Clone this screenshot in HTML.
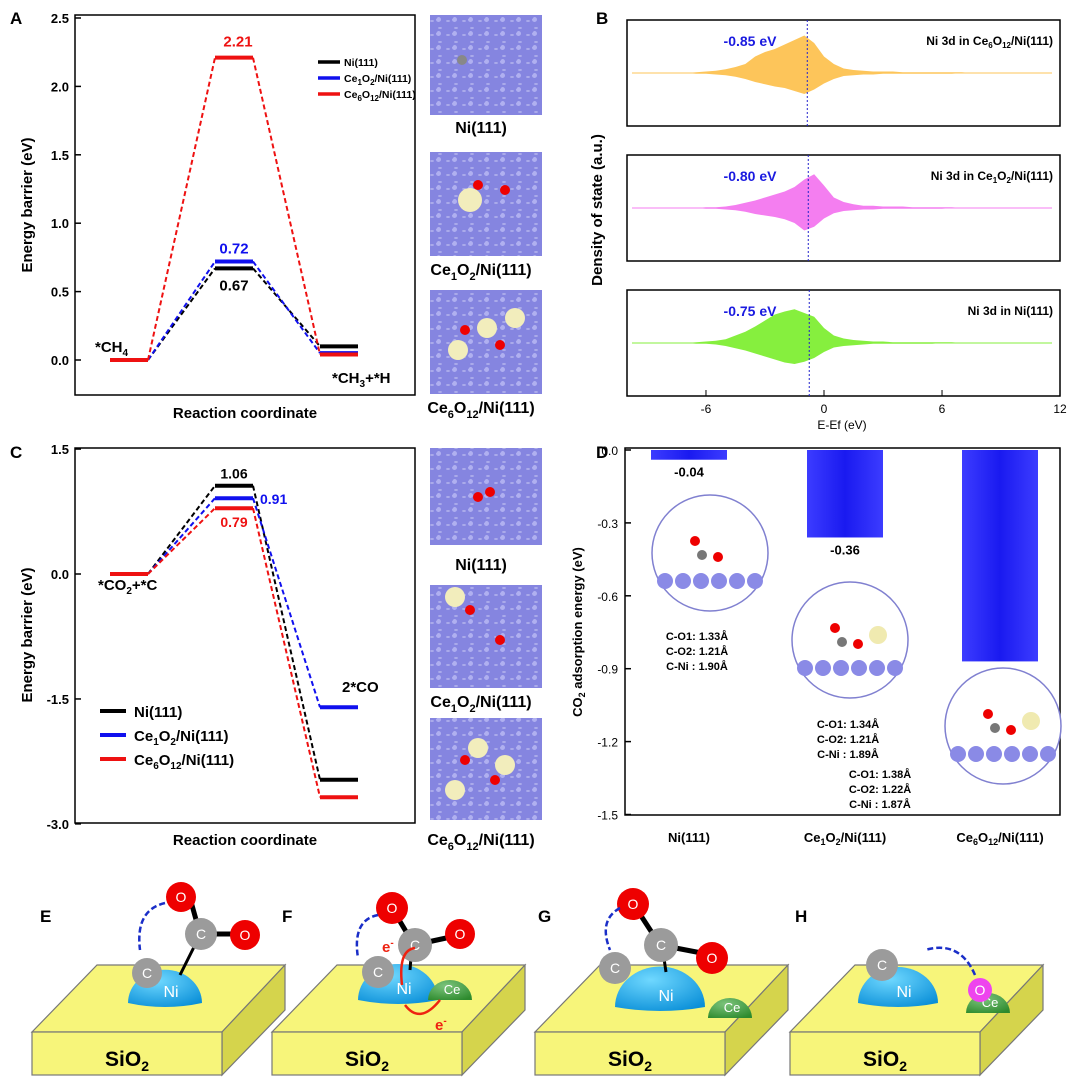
<!DOCTYPE html>
<html><head><meta charset="utf-8"><style>
body{margin:0;background:#fff}
svg{display:block;font-family:"Liberation Sans","Noto Sans CJK SC",sans-serif}
.b{font-weight:bold}
</style></head><body>
<svg id="s" width="1080" height="1090" viewBox="0 0 1080 1090" xmlns="http://www.w3.org/2000/svg">
<defs>
<pattern id="grid" width="16" height="14" patternUnits="userSpaceOnUse">
<rect width="16" height="14" fill="#c9c9f2"/>
<circle cx="8" cy="7" r="6.5" fill="#8585e0"/><circle cx="6.5" cy="5.5" r="2.5" fill="#b0b0f0"/>
<circle cx="0" cy="0" r="6.5" fill="#8585e0"/><circle cx="16" cy="0" r="6.5" fill="#8585e0"/>
<circle cx="0" cy="14" r="6.5" fill="#8585e0"/><circle cx="16" cy="14" r="6.5" fill="#8585e0"/>
</pattern>
<radialGradient id="ni" cx="0.4" cy="0.3" r="0.8"><stop offset="0" stop-color="#6fd8ff"/><stop offset="1" stop-color="#0a8fd8"/></radialGradient>
<radialGradient id="ce" cx="0.4" cy="0.3" r="0.8"><stop offset="0" stop-color="#7cc47c"/><stop offset="1" stop-color="#2d8a2d"/></radialGradient>
<linearGradient id="bar" x1="0" x2="1"><stop offset="0" stop-color="#3c3cff"/><stop offset="0.5" stop-color="#1a1af0"/><stop offset="1" stop-color="#3c3cff"/></linearGradient>
</defs>
<g id="gA"></g>
<g id="gB"></g>
<g id="gC"></g>
<g id="gD"></g>
<g id="gS"></g>
<g id="gE"></g>
</svg>
<script>
// ---- Panel A data
const stagesA = ['*CH4', 'TS', '*CH3+*H'];
const seriesNames = ['Ni(111)', 'Ce1O2/Ni(111)', 'Ce6O12/Ni(111)'];
const aNi = [0, 0.67, 0.10];
const aCe1 = [0, 0.72, 0.05];
const aCe6 = [0, 2.21, 0.04];
const ticksA = [0.0, 0.5, 1.0, 1.5, 2.0, 2.5];
// ---- Panel C data
const cNi = [0, 1.06, -2.47];
const cCe1 = [0, 0.91, -1.60];
const cCe6 = [0, 0.79, -2.68];
const ticksC = [1.5, 0.0, -1.5, -3.0];
// ---- Panel B data
const energies = [-7,-6.5,-6,-5.5,-5,-4.5,-4,-3.5,-3,-2.5,-2,-1.5,-1,-0.5,0,0.5,1,1.5,2,2.5,3,3.5,4,4.5,5,5.5,6,6.5,7,7.5,8,8.5,9];
const dosCe6Up = [0,1,2,3,5,8,12,22,28,32,38,44,50,40,22,12,6,4,3,2,2,2,1,1,1,1,1,1,1,0,0,0,0];
const dosCe6Dn = [0,1,1,2,3,5,8,12,15,18,20,24,28,22,14,8,4,3,2,2,1,1,1,1,1,1,1,1,0,0,0,0,0];
const dosCe1Up = [0,0,1,1,2,4,7,10,14,18,22,28,38,45,30,14,8,5,3,3,2,2,2,1,1,1,1,1,0,0,0,0,0];
const dosCe1Dn = [0,0,1,1,2,3,5,8,10,12,15,20,30,25,14,7,4,3,2,2,1,1,1,1,1,1,1,0,0,0,0,0,0];
const dosNiUp = [0,1,2,3,5,10,15,22,30,38,42,45,40,35,20,10,6,4,3,2,2,1,1,1,1,1,1,1,0,0,0,0,0];
const dosNiDn = [0,1,1,2,4,7,10,14,18,22,26,28,25,20,12,6,4,3,2,1,1,1,1,1,1,1,0,0,0,0,0,0,0];
const dCenters = [-0.85, -0.80, -0.75];
const ticksB = [-6, 0, 6, 12];
// ---- Panel D data
const catsD = ['Ni(111)', 'Ce1O2/Ni(111)', 'Ce6O12/Ni(111)'];
const valsD = [-0.04, -0.36, -0.87];
const ticksD = [0.0, -0.3, -0.6, -0.9, -1.2, -1.5];

const NS='http://www.w3.org/2000/svg';
function mk(p,tag,at,txt){const e=document.createElementNS(NS,tag);for(const k in at)e.setAttribute(k,at[k]);if(txt!==undefined)e.innerHTML=txt;p.appendChild(e);return e;}
const gA=document.getElementById('gA'),gB=document.getElementById('gB'),gC=document.getElementById('gC'),gD=document.getElementById('gD'),gS=document.getElementById('gS'),gE=document.getElementById('gE');
const colors=['#000','#1010ee','#ee1111'];

function energyPanel(g,yf,ticks,series){
  const sx=[129,234,339];
  series.forEach((s,si)=>{
    for(let i=0;i<2;i++){
      const l=mk(g,'line',{x1:sx[i]+19,y1:yf(s[i]),x2:sx[i+1]-19,y2:yf(s[i+1]),stroke:colors[si],'stroke-width':2,'stroke-dasharray':'5,3'});
      
      
    }
  });
  series.forEach((s,si)=>{
    s.forEach((v,i)=>{
      const l=mk(g,'line',{x1:sx[i]-19,y1:yf(v),x2:sx[i]+19,y2:yf(v),stroke:colors[si],'stroke-width':4});
      
      
    });
  });
  ticks.forEach(t=>{
    mk(g,'line',{x1:75,y1:yf(t),x2:81,y2:yf(t),stroke:'#000','stroke-width':1.5});
    const tx=mk(g,'text',{x:69,y:yf(t)+5,'text-anchor':'end','font-size':13,class:'b'},t.toFixed(1));
    
    
  });
}
// Panel A
const yA=v=>360-v*136.8;
mk(gA,'rect',{x:75,y:15,width:340,height:380,fill:'none',stroke:'#000','stroke-width':1.5,});
energyPanel(gA,yA,ticksA,[aNi,aCe1,aCe6]);
mk(gA,'text',{x:238,y:yA(aCe6[1])-11,'text-anchor':'middle','font-size':15,fill:'#ee1111',class:'b',},aCe6[1].toFixed(2));
mk(gA,'text',{x:234,y:yA(aCe1[1])-8,'text-anchor':'middle','font-size':15,fill:'#1010ee',class:'b',},aCe1[1].toFixed(2));
mk(gA,'text',{x:234,y:yA(aNi[1])+22,'text-anchor':'middle','font-size':15,class:'b',},aNi[1].toFixed(2));
mk(gA,'text',{x:95,y:352,'font-size':15,class:'b',},'*CH<tspan font-size="10" dy="4">4</tspan>');
mk(gA,'text',{x:332,y:383,'font-size':15,class:'b',},'*CH<tspan font-size="10" dy="4">3</tspan><tspan dy="-4">+*H</tspan>');
mk(gA,'text',{x:245,y:418,'text-anchor':'middle','font-size':15,class:'b',},'Reaction coordinate');
mk(gA,'text',{x:0,y:0,transform:'translate(32,205) rotate(-90)','text-anchor':'middle','font-size':15,class:'b',},'Energy barrier (eV)');
const legA=['Ni(111)','Ce<tspan font-size="8" dy="3">1</tspan><tspan dy="-3">O</tspan><tspan font-size="8" dy="3">2</tspan><tspan dy="-3">/Ni(111)</tspan>','Ce<tspan font-size="8" dy="3">6</tspan><tspan dy="-3">O</tspan><tspan font-size="8" dy="3">12</tspan><tspan dy="-3">/Ni(111)</tspan>'];
legA.forEach((t,i)=>{mk(gA,'line',{x1:318,y1:62+i*16,x2:340,y2:62+i*16,stroke:colors[i],'stroke-width':3.5});mk(gA,'text',{x:344,y:66+i*16,'font-size':10.5,class:'b',},t);});
mk(gA,'text',{x:10,y:24,'font-size':17,class:'b',},'A');

// Panel C
const yC=v=>574-v*83.3;
mk(gC,'rect',{x:75,y:448,width:340,height:375,fill:'none',stroke:'#000','stroke-width':1.5,});
energyPanel(gC,yC,ticksC,[cNi,cCe1,cCe6]);
mk(gC,'text',{x:234,y:yC(cNi[1])-7,'text-anchor':'middle','font-size':14,class:'b',},cNi[1].toFixed(2));
mk(gC,'text',{x:260,y:yC(cCe1[1])+6,'font-size':14,fill:'#1010ee',class:'b',},cCe1[1].toFixed(2));
mk(gC,'text',{x:234,y:yC(cCe6[1])+19,'text-anchor':'middle','font-size':14,fill:'#ee1111',class:'b',},cCe6[1].toFixed(2));
mk(gC,'text',{x:98,y:590,'font-size':15,class:'b',},'*CO<tspan font-size="10" dy="4">2</tspan><tspan dy="-4">+*C</tspan>');
mk(gC,'text',{x:342,y:692,'font-size':15,class:'b',},'2*CO');
mk(gC,'text',{x:245,y:845,'text-anchor':'middle','font-size':15,class:'b',},'Reaction coordinate');
mk(gC,'text',{x:0,y:0,transform:'translate(32,635) rotate(-90)','text-anchor':'middle','font-size':15,class:'b',},'Energy barrier (eV)');
const legC=['Ni(111)','Ce<tspan font-size="10" dy="4">1</tspan><tspan dy="-4">O</tspan><tspan font-size="10" dy="4">2</tspan><tspan dy="-4">/Ni(111)</tspan>','Ce<tspan font-size="10" dy="4">6</tspan><tspan dy="-4">O</tspan><tspan font-size="10" dy="4">12</tspan><tspan dy="-4">/Ni(111)</tspan>'];
legC.forEach((t,i)=>{mk(gC,'line',{x1:100,y1:711+i*24,x2:126,y2:711+i*24,stroke:colors[i],'stroke-width':4});mk(gC,'text',{x:134,y:717+i*24,'font-size':15,class:'b',},t);});
mk(gC,'text',{x:10,y:458,'font-size':17,class:'b',},'C');

// Panel B
const xB=e=>824+e*19.67;
const boxes=[{y:20,up:dosCe6Up,dn:dosCe6Dn,c:'#fdc55a',lab:'Ni 3d in Ce<tspan font-size="8" dy="3">6</tspan><tspan dy="-3">O</tspan><tspan font-size="8" dy="3">12</tspan><tspan dy="-3">/Ni(111)</tspan>'},
 {y:155,up:dosCe1Up,dn:dosCe1Dn,c:'#f47ef0',lab:'Ni 3d in Ce<tspan font-size="8" dy="3">1</tspan><tspan dy="-3">O</tspan><tspan font-size="8" dy="3">2</tspan><tspan dy="-3">/Ni(111)</tspan>'},
 {y:290,up:dosNiUp,dn:dosNiDn,c:'#86ef3e',lab:'Ni 3d in Ni(111)'}];
boxes.forEach((b,bi)=>{
  const base=b.y+53, k=0.75;
  mk(gB,'rect',{x:627,y:b.y,width:433,height:106,fill:'none',stroke:'#000','stroke-width':1.5,});
  mk(gB,'line',{x1:632,y1:base,x2:1052,y2:base,stroke:b.c,'stroke-width':1});
  let d='M'+xB(energies[0])+','+base;
  energies.forEach((e,i)=>{d+=' L'+xB(e)+','+(base-b.up[i]*k);});
  for(let i=energies.length-1;i>=0;i--){d+=' L'+xB(energies[i])+','+(base+b.dn[i]*k);}
  const p=mk(gB,'path',{d:d+'Z',fill:b.c});
  
  
  mk(gB,'line',{x1:xB(dCenters[bi]),y1:b.y,x2:xB(dCenters[bi]),y2:b.y+106,stroke:'#2222cc','stroke-width':1,'stroke-dasharray':'2,2'});
  mk(gB,'text',{x:750,y:b.y+26,'text-anchor':'middle','font-size':14,fill:'#1a1ae0',class:'b',},dCenters[bi].toFixed(2)+' eV');
  mk(gB,'text',{x:1053,y:b.y+25,'text-anchor':'end','font-size':12,class:'b',},b.lab);
});
ticksB.forEach(t=>{mk(gB,'line',{x1:xB(t),y1:396,x2:xB(t),y2:390,stroke:'#000'});mk(gB,'text',{x:xB(t),y:413,'text-anchor':'middle','font-size':12,},t);});
mk(gB,'text',{x:842,y:429,'text-anchor':'middle','font-size':12,},'E-Ef (eV)');
mk(gB,'text',{x:0,y:0,transform:'translate(602,210) rotate(-90)','text-anchor':'middle','font-size':15,class:'b',},'Density of state (a.u.)');
mk(gB,'text',{x:596,y:24,'font-size':17,class:'b',},'B');

// Panel D
const yD=v=>450-v*243;
const xD=[689,845,1000];
mk(gD,'rect',{x:625,y:448,width:435,height:367,fill:'none',stroke:'#000','stroke-width':1.5,});
valsD.forEach((v,i)=>{
  const r=mk(gD,'rect',{x:xD[i]-38,y:450,width:76,height:yD(v)-450,fill:'url(#bar)'});
  
  
  mk(gD,'text',{x:xD[i],y:yD(v)+17,'text-anchor':'middle','font-size':13,class:'b',},v.toFixed(2));
});
ticksD.forEach(t=>{mk(gD,'line',{x1:625,y1:yD(t),x2:631,y2:yD(t),stroke:'#000','stroke-width':1.5});mk(gD,'text',{x:618,y:yD(t)+5,'text-anchor':'end','font-size':12,},t.toFixed(1));});
const catLab=['Ni(111)','Ce<tspan font-size="9" dy="3">1</tspan><tspan dy="-3">O</tspan><tspan font-size="9" dy="3">2</tspan><tspan dy="-3">/Ni(111)</tspan>','Ce<tspan font-size="9" dy="3">6</tspan><tspan dy="-3">O</tspan><tspan font-size="9" dy="3">12</tspan><tspan dy="-3">/Ni(111)</tspan>'];
catLab.forEach((c,i)=>mk(gD,'text',{x:xD[i],y:842,'text-anchor':'middle','font-size':13,class:'b',},c));
mk(gD,'text',{x:0,y:0,transform:'translate(582,632) rotate(-90)','text-anchor':'middle','font-size':13,class:'b',},'CO<tspan font-size="9" dy="3">2</tspan><tspan dy="-3"> adsorption energy  (eV)</tspan>');
mk(gD,'text',{x:596,y:458,'font-size':17,class:'b',},'D');
const circ=[[710,553,'#8888dd',[697,640]],[850,640,'#8888dd',[848,728]],[1003,726,'#8888dd',[880,778]]];
const bonds=[['1.33','1.21','1.90'],['1.34','1.21','1.89'],['1.38','1.22','1.87']];
circ.forEach((c,i)=>{
  mk(gD,'circle',{cx:c[0],cy:c[1],r:58,fill:'#fff',stroke:'#8080d0','stroke-width':1.5,});
  for(let j=0;j<6;j++)mk(gD,'circle',{cx:c[0]-45+j*18,cy:c[1]+28,r:8,fill:'#8a8ae6'});
  mk(gD,'circle',{cx:c[0]-8,cy:c[1]+2,r:5,fill:'#777'});
  mk(gD,'circle',{cx:c[0]-15,cy:c[1]-12,r:5,fill:'#e00'});
  mk(gD,'circle',{cx:c[0]+8,cy:c[1]+4,r:5,fill:'#e00'});
  if(i>0){mk(gD,'circle',{cx:c[0]+28,cy:c[1]-5,r:9,fill:'#f0eab0'});}
  ['C-O1: ','C-O2: ','C-Ni : '].forEach((p,j)=>mk(gD,'text',{x:c[3][0],y:c[3][1]+j*15,'text-anchor':'middle','font-size':11,class:'b',},p+bonds[i][j]+'Å'));
});

// Structure images
const imgs=[[430,15,112,100],[430,152,112,104],[430,290,112,104],[430,448,112,97],[430,585,112,103],[430,718,112,102]];
imgs.forEach((r,i)=>{const e=mk(gS,'rect',{x:r[0],y:r[1],width:r[2],height:r[3],fill:'url(#grid)'});});
[[470,200,12],[487,328,10],[515,318,10],[458,350,10],[455,597,10],[478,748,10],[505,765,10],[455,790,10]].forEach(a=>{mk(gS,'circle',{cx:a[0],cy:a[1],r:a[2],fill:'#f2edbc'});});
[[462,60,'#888'],[490,492,'#e00'],[478,497,'#e00'],[478,185,'#e00'],[505,190,'#e00'],[465,330,'#e00'],[500,345,'#e00'],[470,610,'#e00'],[500,640,'#e00'],[465,760,'#e00'],[495,780,'#e00']].forEach(a=>mk(gS,'circle',{cx:a[0],cy:a[1],r:5,fill:a[2]}));
[['Ni(111)',133],['Ce<tspan font-size="11" dy="5">1</tspan><tspan dy="-5">O</tspan><tspan font-size="11" dy="5">2</tspan><tspan dy="-5">/Ni(111)</tspan>',275],['Ce<tspan font-size="11" dy="5">6</tspan><tspan dy="-5">O</tspan><tspan font-size="11" dy="5">12</tspan><tspan dy="-5">/Ni(111)</tspan>',413],['Ni(111)',570],['Ce<tspan font-size="11" dy="5">1</tspan><tspan dy="-5">O</tspan><tspan font-size="11" dy="5">2</tspan><tspan dy="-5">/Ni(111)</tspan>',707],['Ce<tspan font-size="11" dy="5">6</tspan><tspan dy="-5">O</tspan><tspan font-size="11" dy="5">12</tspan><tspan dy="-5">/Ni(111)</tspan>',845]].forEach(l=>mk(gS,'text',{x:481,y:l[1],'text-anchor':'middle','font-size':16,class:'b',},l[0]));

// Schematics
const offs=[0,240,503,758];const lets=['E','F','G','H'];
function atom(g,x,y,r,f,t,tc){mk(g,'circle',{cx:x,cy:y,r:r,fill:f});mk(g,'text',{x:x,y:y+5,'text-anchor':'middle','font-size':14,fill:tc||'#fff'},t);}
offs.forEach((o,i)=>{
  const g=mk(gE,'g',{transform:'translate('+o+',0)'});
  
  
  mk(g,'polygon',{points:'97,965 285,965 222,1032 32,1032',fill:'#f7f57a',stroke:'#777','stroke-width':1.2});
  mk(g,'polygon',{points:'222,1032 285,965 285,1010 222,1075',fill:'#d5d44c',stroke:'#777','stroke-width':1.2});
  mk(g,'rect',{x:32,y:1032,width:190,height:43,fill:'#f7f57a',stroke:'#777','stroke-width':1.2});
  mk(g,'text',{x:127,y:1066,'text-anchor':'middle','font-size':21,class:'b'},'SiO<tspan font-size="14" dy="5">2</tspan>');
  mk(g,'text',{x:[40,42,35,37][i],y:922,'font-size':17,class:'b'},lets[i]);
});
function ni(x,y,r){mk(gE,'path',{d:'M'+(x-r)+','+y+' A'+r+','+(r*0.9)+' 0 0 1 '+(x+r)+','+y+' Q'+x+','+(y+8)+' '+(x-r)+','+y+'Z',fill:'url(#ni)'});mk(gE,'text',{x:x+6,y:y-6,'text-anchor':'middle','font-size':16,fill:'#fff'},'Ni');}
function ceD(x,y){mk(gE,'path',{d:'M'+(x-22)+','+y+' A22,20 0 0 1 '+(x+22)+','+y+'Z',fill:'url(#ce)'});mk(gE,'text',{x:x+2,y:y-6,'text-anchor':'middle','font-size':13,fill:'#fff'},'Ce');}
// E
ni(165,1003,37);
mk(gE,'line',{x1:180,y1:975,x2:200,y2:935,stroke:'#000','stroke-width':3});
mk(gE,'line',{x1:190,y1:898,x2:200,y2:934,stroke:'#000','stroke-width':5});
mk(gE,'line',{x1:200,y1:934,x2:240,y2:934,stroke:'#000','stroke-width':5});
atom(gE,147,973,15,'#9b9b9b','C');atom(gE,201,934,16,'#9b9b9b','C');atom(gE,181,897,15,'#ee0000','O');atom(gE,245,935,15,'#ee0000','O');
mk(gE,'path',{d:'M165,903 Q135,910 140,950',fill:'none',stroke:'#1a2ec8','stroke-width':2.5,'stroke-dasharray':'6,3'});
// F
ni(398,1000,40);ceD(450,1000);
mk(gE,'line',{x1:410,y1:970,x2:412,y2:945,stroke:'#000','stroke-width':3});
mk(gE,'line',{x1:392,y1:908,x2:414,y2:945,stroke:'#000','stroke-width':5});
mk(gE,'line',{x1:414,y1:945,x2:460,y2:935,stroke:'#000','stroke-width':5});
atom(gE,378,972,16,'#9b9b9b','C');atom(gE,415,945,17,'#9b9b9b','C');atom(gE,392,908,16,'#ee0000','O');atom(gE,460,934,15,'#ee0000','O');
mk(gE,'path',{d:'M378,915 Q352,920 358,958',fill:'none',stroke:'#1a2ec8','stroke-width':2.5,'stroke-dasharray':'6,3'});
mk(gE,'path',{d:'M415,948 Q398,950 402,985',fill:'none',stroke:'#e21','stroke-width':2.5});
mk(gE,'path',{d:'M405,1005 Q420,1025 440,1000',fill:'none',stroke:'#e21','stroke-width':2.5});
mk(gE,'text',{x:382,y:952,'font-size':15,fill:'#e21',class:'b'},'e<tspan font-size="10" dy="-6">-</tspan>');
mk(gE,'text',{x:435,y:1030,'font-size':15,fill:'#e21',class:'b'},'e<tspan font-size="10" dy="-6">-</tspan>');
// G
ni(660,1007,45);ceD(730,1018);
mk(gE,'line',{x1:666,y1:972,x2:662,y2:945,stroke:'#000','stroke-width':3});
mk(gE,'line',{x1:634,y1:905,x2:660,y2:945,stroke:'#000','stroke-width':5});
mk(gE,'line',{x1:660,y1:945,x2:712,y2:955,stroke:'#000','stroke-width':5});
atom(gE,615,968,16,'#9b9b9b','C');atom(gE,661,945,17,'#9b9b9b','C');atom(gE,633,904,16,'#ee0000','O');atom(gE,712,958,16,'#ee0000','O');
mk(gE,'path',{d:'M620,908 Q598,920 610,950',fill:'none',stroke:'#1a2ec8','stroke-width':2.5,'stroke-dasharray':'6,3'});
// H
ni(898,1003,40);ceD(988,1013);
atom(gE,882,965,16,'#9b9b9b','C');atom(gE,980,990,12,'#ee44ee','O');
mk(gE,'path',{d:'M975,975 Q960,940 925,950',fill:'none',stroke:'#1a2ec8','stroke-width':2.5,'stroke-dasharray':'6,3'});
</script>
</body></html>
